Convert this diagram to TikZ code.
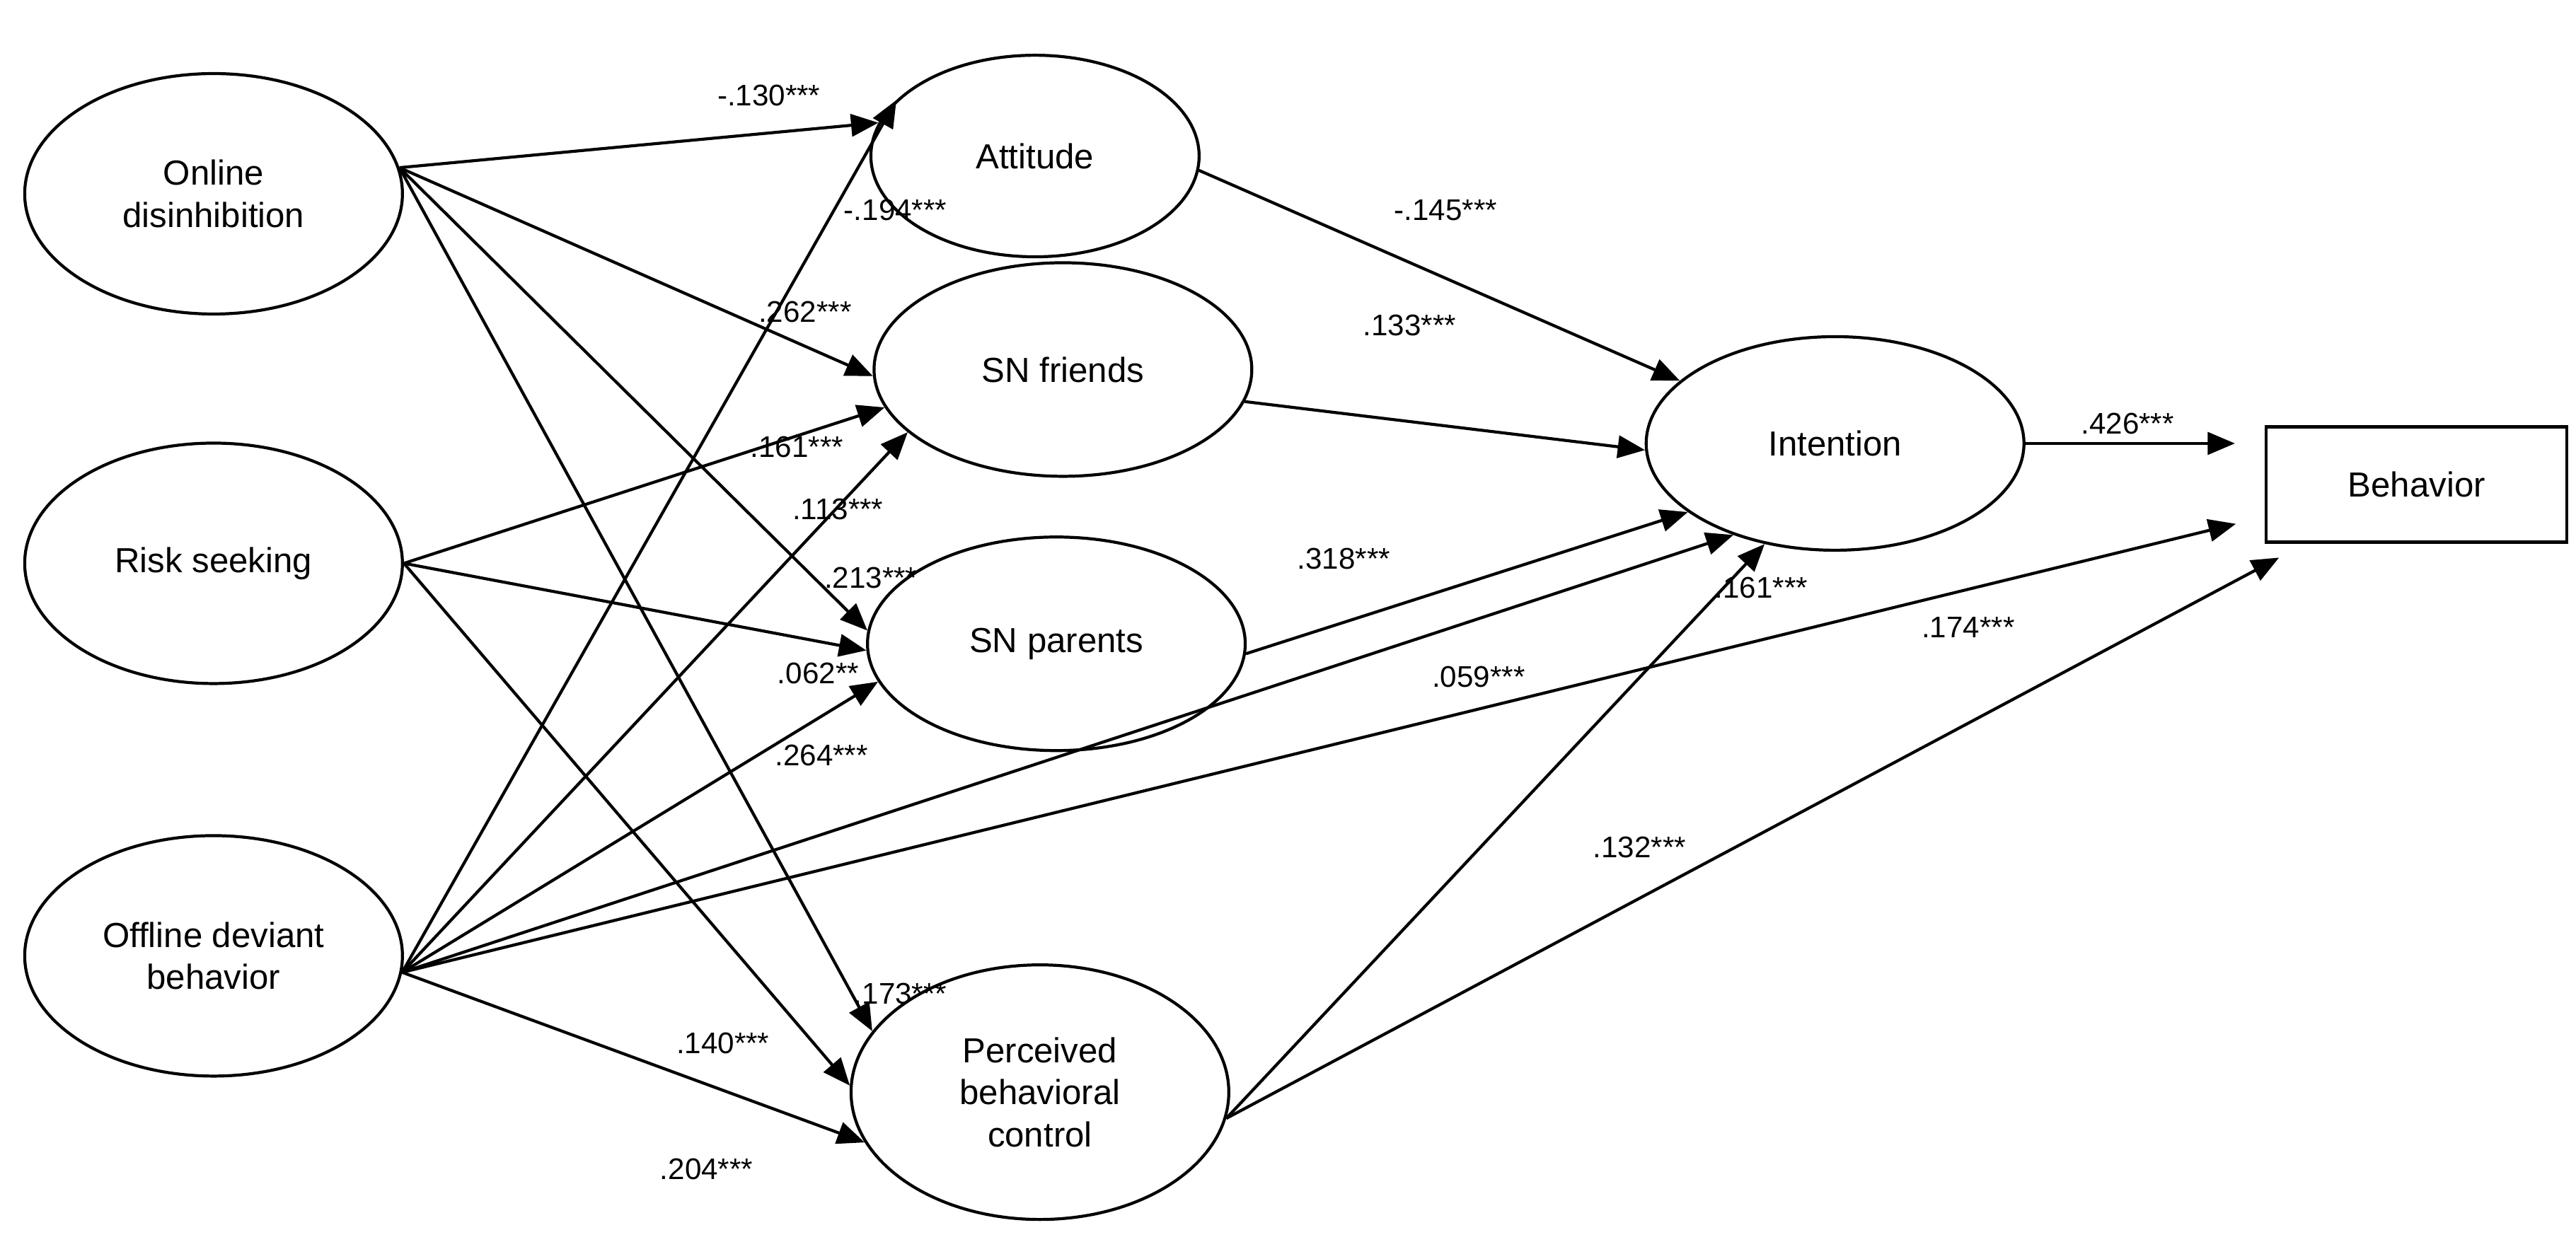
\documentclass[tikz,border=0pt]{standalone}
\usepackage{fontspec}
\setmainfont{Liberation Sans}
\usetikzlibrary{shapes.geometric,arrows.meta}
\begin{document}
\begin{tikzpicture}[x=0.02322cm,y=-0.02322cm,
  lat/.style={ellipse,draw,line width=1.2pt,inner sep=0pt,align=center,font=\fontsize{14}{17}\selectfont},
  big/.style={minimum width=5.34cm,minimum height=3.4cm},
  mid/.style={minimum width=5.34cm,minimum height=3.02cm},
  arr/.style={-{Triangle[length=11pt,width=9pt]},line width=1.2pt},
  gap/.style={shorten >=12pt},
  lab/.style={font=\fontsize{12}{14}\selectfont,inner sep=0pt},
]
\useasboundingbox (0,0) rectangle (1568,756);
\node[lat,big] (od) at (130,118) {Online\\disinhibition};
\node[lat,big] (rs) at (130,343) {Risk seeking};
\node[lat,big] (odb) at (130,582) {Offline deviant\\behavior};
\node[lat,minimum width=4.64cm,minimum height=2.85cm] (att) at (630,95) {Attitude};
\node[lat,mid] (snf) at (647,225) {SN friends};
\node[lat,mid] (snp) at (643,392) {SN parents};
\node[lat,minimum width=5.34cm,minimum height=3.6cm] (pbc) at (633,665) {Perceived\\behavioral\\control};
\node[lat,mid] (int) at (1117,270) {Intention};
\node[draw,line width=1.2pt,minimum width=4.25cm,minimum height=1.63cm,font=\fontsize{14}{17}\selectfont] (beh) at (1471,295) {Behavior};

\draw[arr] (od.8) -- (att.168);
\draw[arr] (od.8) -- (snf.182);
\draw[arr] (od.8) -- (snp.176);
\draw[arr] (od.8) -- (pbc.160);
\draw[arr] (rs.east) -- (snf.192);
\draw[arr] (rs.east) -- (snp.182);
\draw[arr] (rs.east) -- (pbc.178);
\draw[arr] (odb.-5) -- (att.158);
\draw[arr] (odb.-5) -- (snf.202);
\draw[arr] (odb.-5) -- (snp.192);
\draw[arr] (odb.-5) -- (pbc.196);
\draw[arr] (odb.-5) -- (int.222);
\draw[arr,gap] (odb.-5) -- (beh.192);
\draw[arr] (att.-5) -- (int.158);
\draw[arr] (snf.-10) -- (int.182);
\draw[arr] (snp.-3) -- (int.205);
\draw[arr] (pbc.-8) -- (int.235);
\draw[arr,gap] (pbc.-8) -- (beh.208);
\draw[arr,gap] (int.east) -- (int.east -| beh.west);

\node[lab] (l1) at (468,58) {-.130***};
\node[lab] (l2) at (545,128) {-.194***};
\node[lab] (l3) at (490,190) {.262***};
\node[lab] (l4) at (485,272) {.161***};
\node[lab] (l5) at (510,310) {.113***};
\node[lab] (l6) at (530,352) {.213***};
\node[lab] (l7) at (498,410) {.062**};
\node[lab] (l8) at (500,460) {.264***};
\node[lab] (l9) at (548,605) {.173***};
\node[lab] (l10) at (440,635) {.140***};
\node[lab] (l11) at (430,712) {.204***};
\node[lab] (l12) at (880,128) {-.145***};
\node[lab] (l13) at (858,198) {.133***};
\node[lab] (l14) at (818,340) {.318***};
\node[lab] (l15) at (900,412) {.059***};
\node[lab] (l16) at (1072,358) {.161***};
\node[lab] (l17) at (1198,382) {.174***};
\node[lab] (l18) at (998,516) {.132***};
\node[lab] (l19) at (1295,258) {.426***};
\end{tikzpicture}
\end{document}
